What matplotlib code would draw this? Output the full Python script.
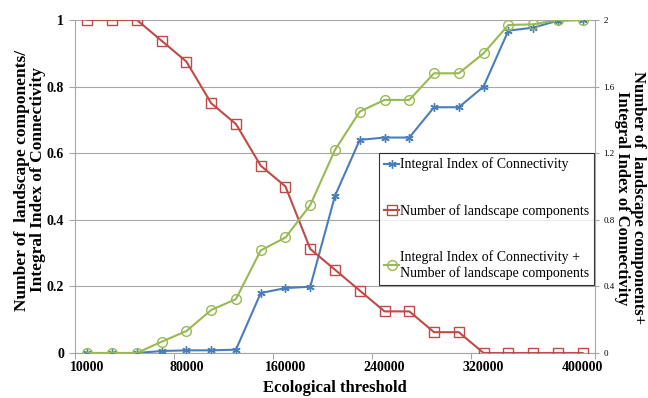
import matplotlib
matplotlib.use("Agg")
import matplotlib.pyplot as plt
import numpy as np

thresholds = ["10000", "20000", "40000", "60000", "80000", "100000", "120000",
              "140000", "160000", "180000", "200000", "220000", "240000",
              "260000", "280000", "300000", "320000", "340000", "360000",
              "380000", "400000"]
iic = [0, 0, 0, 0.006, 0.008, 0.008, 0.01, 0.18, 0.195, 0.199, 0.472, 0.64,
       0.647, 0.647, 0.738, 0.738, 0.80, 0.968, 0.977, 0.998, 1.0]
nlc = [1, 1, 1, 0.9375, 0.875, 0.75, 0.6875, 0.5625, 0.5, 0.3125, 0.25,
       0.1875, 0.125, 0.125, 0.0625, 0.0625, 0, 0, 0, 0, 0]
combined = [0, 0, 0, 0.068, 0.132, 0.258, 0.324, 0.616, 0.694, 0.888, 1.22,
            1.45, 1.52, 1.52, 1.68, 1.68, 1.80, 1.97, 1.974, 2.0, 2.0]
left_ticks = [0, 0.2, 0.4, 0.6, 0.8, 1]
left_labels = ["0", "0.2", "0.4", "0.6", "0.8", "1"]
right_ticks = [0, 0.4, 0.8, 1.2, 1.6, 2]
right_labels = ["0", "0.4", "0.8", "1.2", "1.6", "2"]
label_idx = [0, 4, 8, 12, 16, 20]

plt.rcParams['font.family'] = ['Liberation Serif', 'DejaVu Serif']

blue = '#4A7EBB'
red = '#BE4B48'
green = '#98B954'
grid = '#A6A6A6'

fig = plt.figure(figsize=(6.48, 3.98), dpi=100)
ax = fig.add_axes([75/648, 45/398, 520/648, 333/398])
ax2 = ax.twinx()

x = np.arange(len(thresholds))
l1, = ax.plot(x, iic, color=blue, lw=1.5, marker=(6, 2, 0), ms=6, mew=1.0,
              label='Integral Index of Connectivity', zorder=3)
l2, = ax.plot(x, nlc, color=red, lw=1.5, marker='s', ms=6.5, mfc='none', mew=1.0,
              label='Number of landscape components', zorder=3)
l3, = ax2.plot(x, combined, color=green, lw=1.5, marker='o', ms=7, mfc='none', mew=1.0,
               label='Integral Index of Connectivity +\nNumber of landscape components', zorder=3)

ax.set_xlim(-0.5, len(thresholds) - 0.5)
ax.set_ylim(0, 1)
ax2.set_ylim(0, 2)

ax.set_yticks(left_ticks)
ax.set_yticklabels(left_labels, fontsize=10, fontweight='bold')
ax2.set_yticks(right_ticks)
ax2.set_yticklabels(right_labels, fontsize=6.5)

ax.set_xticks([i - 0.5 for i in label_idx[:-1]] + [len(thresholds) - 0.5])
ax.set_xticklabels([])
ax.set_xticks(label_idx, minor=True)
ax.set_xticklabels([thresholds[i] for i in label_idx], minor=True,
                   fontsize=10, fontweight='bold')
ax.tick_params(axis='x', which='minor', length=0, pad=6)
ax.tick_params(axis='x', which='major', length=4, color=grid)
ax.tick_params(axis='y', length=4, color=grid, pad=4)
ax2.tick_params(axis='y', length=3, color=grid, pad=3)

ax.grid(axis='y', color=grid, lw=0.8)
ax.set_axisbelow(True)
for a in (ax, ax2):
    a.spines['top'].set_visible(False)
    for s in ('left', 'right', 'bottom'):
        a.spines[s].set_color(grid)
ax.spines['right'].set_visible(False)
ax2.spines['left'].set_visible(False)
ax2.spines['bottom'].set_visible(False)

ax.set_xlabel('Ecological threshold', fontsize=12, fontweight='bold', labelpad=4)
fig.text(30/648, (398-180)/398, 'Number of  landscape components/\nIntegral Index of Connectivity',
         fontsize=12.5, fontweight='bold', rotation=90, ha='center', va='center',
         linespacing=1.0, multialignment='center')
fig.text(630/648, (398-198)/398, 'Number of  landscape components+\nIntegral Index of Connectivity',
         fontsize=12, fontweight='bold', rotation=-90, ha='center', va='center',
         linespacing=0.95, multialignment='center')

leg = ax.legend(handles=[l1, l2, l3], loc='lower right',
                bbox_to_anchor=(594/648, 113/398), bbox_transform=fig.transFigure,
                fontsize=10, frameon=True, fancybox=False, edgecolor='black',
                handlelength=1.1, handletextpad=0.05, labelspacing=2.35,
                borderpad=0.35, borderaxespad=0)
leg.get_frame().set_linewidth(0.8)
leg.set_zorder(5)

fig.savefig('out.png', dpi=100)
